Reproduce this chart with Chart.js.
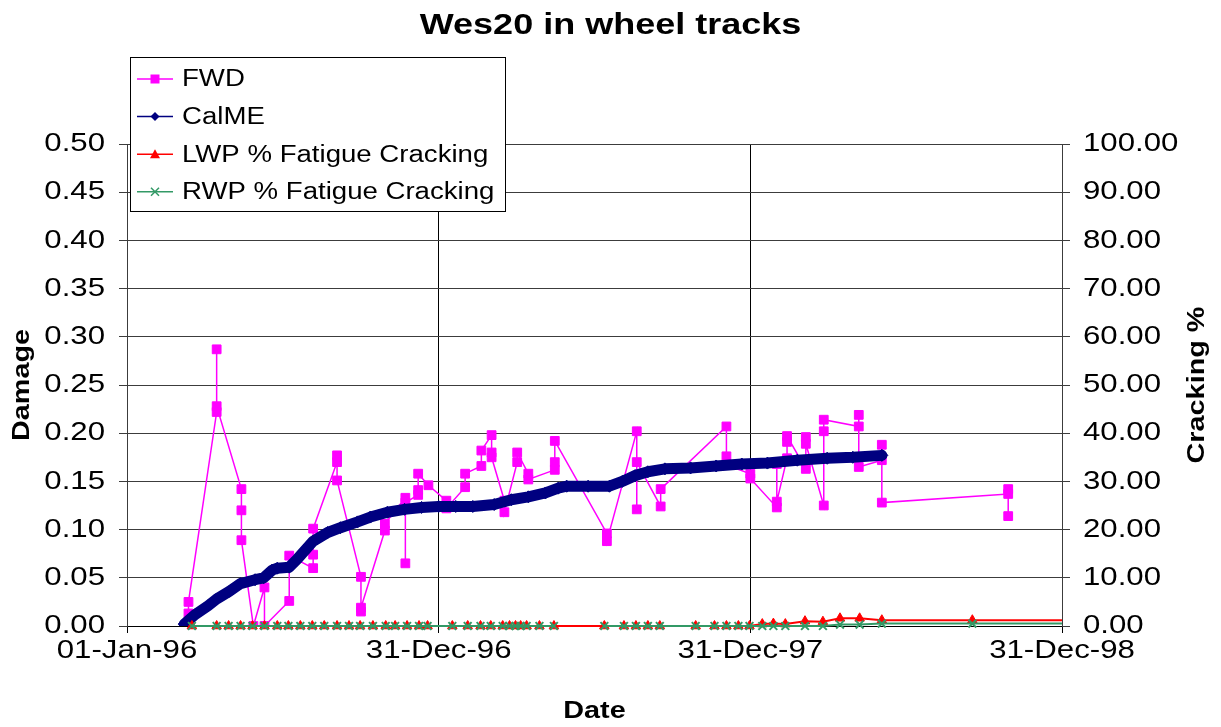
<!DOCTYPE html>
<html>
<head>
  <meta charset="UTF-8">
  <title>Wes20 in wheel tracks</title>
  <script src="https://cdn.jsdelivr.net/npm/chart.js"></script>
  <style>
    html, body { margin: 0; padding: 0; background: #fff; }
    #chart-container { width: 1221px; height: 727px; }
  </style>
</head>
<body>
  <div id="chart-container">
    <canvas id="myChart" width="1221" height="727"></canvas>
  </div>
  <script>
    // FWD back-calculated damage, several drops per survey date
    const fwdDates = [
      '1996-03-13','1996-03-13',
      '1996-04-15','1996-04-15','1996-04-15',
      '1996-05-14','1996-05-14','1996-05-14',
      '1996-05-28',
      '1996-06-10','1996-06-10',
      '1996-07-09','1996-07-09',
      '1996-08-06','1996-08-06','1996-08-06',
      '1996-09-03','1996-09-03','1996-09-03',
      '1996-10-01','1996-10-01','1996-10-01',
      '1996-10-29','1996-10-29',
      '1996-11-22','1996-11-22','1996-11-22',
      '1996-12-07','1996-12-07','1996-12-07',
      '1996-12-19',
      '1997-01-09','1997-01-09',
      '1997-01-31','1997-01-31',
      '1997-02-19','1997-02-19',
      '1997-03-03','1997-03-03','1997-03-03',
      '1997-03-18','1997-03-18',
      '1997-04-02','1997-04-02',
      '1997-04-15','1997-04-15',
      '1997-05-16','1997-05-16','1997-05-16',
      '1997-07-16','1997-07-16',
      '1997-08-20','1997-08-20','1997-08-20',
      '1997-09-17','1997-09-17',
      '1997-12-03','1997-12-03','1997-12-03',
      '1997-12-31','1997-12-31',
      '1998-01-31','1998-01-31','1998-01-31',
      '1998-02-12','1998-02-12','1998-02-12',
      '1998-03-06','1998-03-06','1998-03-06',
      '1998-03-27','1998-03-27','1998-03-27',
      '1998-05-07','1998-05-07','1998-05-07',
      '1998-06-03','1998-06-03','1998-06-03',
      '1998-10-29','1998-10-29','1998-10-29'
    ];
    const fwdDamage = [
      0.013, 0.025,
      0.222, 0.287, 0.228,
      0.142, 0.120, 0.089,
      0.000,
      0.040, 0.000,
      0.026, 0.073,
      0.060, 0.074, 0.101,
      0.170, 0.177, 0.151,
      0.051, 0.015, 0.019,
      0.099, 0.106,
      0.133, 0.065, 0.128,
      0.136, 0.141, 0.158,
      0.146,
      0.130, 0.122,
      0.144, 0.158,
      0.166, 0.182,
      0.198, 0.180, 0.175,
      0.130, 0.118,
      0.170, 0.180,
      0.158, 0.152,
      0.162, 0.170, 0.192,
      0.096, 0.088,
      0.202, 0.121, 0.170,
      0.124, 0.142,
      0.207, 0.176, 0.167,
      0.158, 0.153,
      0.123, 0.168, 0.129,
      0.174, 0.191, 0.197,
      0.163, 0.196, 0.189,
      0.125, 0.202, 0.214,
      0.207, 0.219, 0.165,
      0.172, 0.188, 0.128,
      0.137, 0.142, 0.114
    ];

    // CalME simulated damage
    const calmeDates = [
      '1996-03-08','1996-03-21','1996-04-05','1996-04-15','1996-04-30',
      '1996-05-13','1996-05-30','1996-06-09','1996-06-19','1996-06-25',
      '1996-07-09','1996-07-19','1996-08-06','1996-08-23','1996-09-07',
      '1996-09-27','1996-10-12','1996-11-01','1996-11-21','1996-12-11',
      '1996-12-31','1997-01-20','1997-02-09','1997-03-06','1997-03-26',
      '1997-04-15','1997-05-05','1997-05-20','1997-05-30','1997-06-24',
      '1997-07-19','1997-08-03','1997-08-18','1997-09-02','1997-09-22',
      '1997-10-22','1997-11-21','1997-12-21','1998-01-20','1998-02-24',
      '1998-03-31','1998-04-30','1998-06-03'
    ];
    const calmeDamage = [
      0.002, 0.012, 0.021, 0.028, 0.036,
      0.044, 0.048, 0.050, 0.058, 0.060,
      0.061, 0.070, 0.088, 0.097, 0.102,
      0.108, 0.113, 0.118, 0.121, 0.123,
      0.124, 0.124, 0.124, 0.126, 0.131,
      0.134, 0.138, 0.143, 0.145, 0.145,
      0.145, 0.150, 0.156, 0.160, 0.163,
      0.164, 0.166, 0.168, 0.169, 0.172,
      0.174, 0.175, 0.177
    ];

    // visual crack surveys (right axis); null = no RWP reading
    const crackDates = [
      '1996-03-17','1996-04-15','1996-04-29','1996-05-13','1996-05-27',
      '1996-06-10','1996-06-25','1996-07-08','1996-07-22','1996-08-05',
      '1996-08-19','1996-09-03','1996-09-17','1996-09-30','1996-10-15',
      '1996-10-30','1996-11-10','1996-11-24','1996-12-08','1996-12-18',
      '1997-01-16','1997-02-03','1997-02-18','1997-03-02','1997-03-16',
      '1997-03-24','1997-03-31','1997-04-06','1997-04-13','1997-04-28',
      '1997-05-15','1997-06-14','1997-07-13','1997-08-05','1997-08-19',
      '1997-09-02','1997-09-16','1997-10-28','1997-11-19','1997-12-03',
      '1997-12-17','1997-12-30','1998-01-14','1998-01-27','1998-02-10',
      '1998-03-05','1998-03-26','1998-04-15','1998-05-08','1998-06-03',
      '1998-09-17','1999-01-15'
    ];
    const lwpCracking = [
      0, 0, 0, 0, 0,  0, 0, 0, 0, 0,
      0, 0, 0, 0, 0,  0, 0, 0, 0, 0,
      0, 0, 0, 0, 0,  0, 0, 0, 0, 0,
      0, null, 0, 0, 0,  0, 0, 0, 0, 0,
      0, 0, 0.4, 0.5, 0.4,  1.0, 0.9, 1.6, 1.6, 1.2,
      1.2, 1.2
    ];
    const rwpCracking = [
      0, 0, 0, 0, 0,  0, 0, 0, 0, 0,
      0, 0, 0, 0, 0,  0, 0, 0, 0, 0,
      0, 0, 0, 0, 0,  0, 0, 0, 0, 0,
      0, null, 0, 0, 0,  0, 0, 0, 0, 0,
      0, 0, 0, 0, 0,  0, 0, 0.3, 0.3, 0.5,
      0.5, 0.5
    ];

    const xTicks = ['1996-01-01', '1996-12-31', '1997-12-31', '1998-12-31'];

    // dates are plotted as days since 01-Jan-96
    const DAY = 86400000;
    const START = Date.parse('1996-01-01');
    const toDay = s => (Date.parse(s) - START) / DAY;
    const MONTHS = ['Jan','Feb','Mar','Apr','May','Jun','Jul','Aug','Sep','Oct','Nov','Dec'];
    function dayLabel(d) {
      const t = new Date(START + d * DAY);
      return String(t.getUTCDate()).padStart(2, '0') + '-' + MONTHS[t.getUTCMonth()] + '-' +
        String(t.getUTCFullYear()).slice(2);
    }
    const points = (dates, values) => dates.map((d, i) => ({ x: toDay(d), y: values[i] }));

    const FONT = '"Liberation Sans", Arial, sans-serif';

    // the Excel export draws its text wider than normal Arial
    const TEXT_STRETCH = 1.2;
    const canvas = document.getElementById('myChart');
    const ctx = canvas.getContext('2d');
    const rawFill = ctx.fillText.bind(ctx);
    const rawMeasure = ctx.measureText.bind(ctx);
    ctx.fillText = function (s, x, y) {
      ctx.save();
      ctx.translate(x, y);
      ctx.scale(TEXT_STRETCH, 1);
      rawFill(s, 0, 0);
      ctx.restore();
    };
    ctx.measureText = function (s) {
      const m = rawMeasure(s);
      return {
        width: m.width * TEXT_STRETCH,
        actualBoundingBoxAscent: m.actualBoundingBoxAscent,
        actualBoundingBoxDescent: m.actualBoundingBoxDescent
      };
    };

    function legendMarker(c, style, x, y, color) {
      c.fillStyle = color;
      c.strokeStyle = color;
      c.beginPath();
      if (style === 'rect') {
        c.rect(x - 4.5, y - 4.5, 9, 9);
        c.fill();
      } else if (style === 'rectRot') {
        c.moveTo(x, y - 4.5); c.lineTo(x + 4.5, y); c.lineTo(x, y + 4.5); c.lineTo(x - 4.5, y);
        c.closePath();
        c.fill();
      } else if (style === 'triangle') {
        c.moveTo(x, y - 5); c.lineTo(x + 5, y + 4); c.lineTo(x - 5, y + 4);
        c.closePath();
        c.fill();
      } else {
        c.lineWidth = 1.5;
        c.moveTo(x - 4, y - 4); c.lineTo(x + 4, y + 4);
        c.moveTo(x + 4, y - 4); c.lineTo(x - 4, y + 4);
        c.stroke();
      }
    }

    // boxed legend over the top-left of the plot, plus the right axis title
    const excelBits = {
      id: 'excelBits',
      afterDraw(chart) {
        const c = chart.ctx;
        const y2 = chart.scales.y2;

        c.save();
        c.translate(y2.right - 24, (y2.top + y2.bottom) / 2);
        c.rotate(-Math.PI / 2);
        c.font = 'bold 24px ' + FONT;
        c.fillStyle = '#000';
        c.textAlign = 'center';
        c.textBaseline = 'middle';
        c.fillText('Cracking %', 0, 0);
        c.restore();

        const bx = 130, by = 57, bw = 375, bh = 154;
        c.save();
        c.fillStyle = '#fff';
        c.fillRect(bx, by, bw, bh);
        c.strokeStyle = '#000';
        c.lineWidth = 1;
        c.strokeRect(bx + 0.5, by + 0.5, bw, bh);
        c.font = '23px ' + FONT;
        c.textAlign = 'left';
        c.textBaseline = 'middle';
        chart.data.datasets.forEach((ds, i) => {
          const y = by + 22 + i * 37.6;
          c.strokeStyle = ds.borderColor;
          c.lineWidth = 1.5;
          c.beginPath();
          c.moveTo(bx + 7, y);
          c.lineTo(bx + 43, y);
          c.stroke();
          legendMarker(c, ds.pointStyle, bx + 25, y, ds.borderColor);
          c.fillStyle = '#000';
          c.fillText(ds.label, bx + 52, y + 1);
        });
        c.restore();
      }
    };

    const data = {
      datasets: [
        {
          label: 'FWD',
          data: points(fwdDates, fwdDamage),
          borderColor: '#FF00FF',
          backgroundColor: '#FF00FF',
          borderWidth: 1.5,
          pointStyle: 'rect',
          pointRadius: 6.2,
          pointBorderWidth: 1,
          yAxisID: 'y',
          order: 4
        },
        {
          label: 'CalME',
          data: points(calmeDates, calmeDamage),
          borderColor: '#000080',
          backgroundColor: '#000080',
          borderWidth: 11,
          borderCapStyle: 'round',
          borderJoinStyle: 'round',
          pointStyle: 'rectRot',
          pointRadius: 6,
          pointBorderWidth: 1,
          yAxisID: 'y',
          order: 3
        },
        {
          label: 'LWP % Fatigue Cracking',
          data: points(crackDates, lwpCracking),
          borderColor: '#FF0000',
          backgroundColor: '#FF0000',
          borderWidth: 2,
          pointStyle: 'triangle',
          pointRadius: 5.5,
          pointBorderWidth: 1,
          spanGaps: true,
          clip: { left: 10, top: 10, right: 0, bottom: 10 },
          yAxisID: 'y2',
          order: 2
        },
        {
          label: 'RWP % Fatigue Cracking',
          data: points(crackDates, rwpCracking),
          borderColor: '#339966',
          backgroundColor: '#339966',
          borderWidth: 2,
          pointStyle: 'crossRot',
          pointRadius: 5.5,
          pointBorderWidth: 2,
          spanGaps: false,
          clip: { left: 10, top: 10, right: 0, bottom: 10 },
          yAxisID: 'y2',
          order: 1
        }
      ]
    };

    const config = {
      type: 'line',
      data: data,
      options: {
        responsive: false,
        animation: false,
        devicePixelRatio: 1,
        layout: { padding: 0 },
        elements: { line: { tension: 0 } },
        plugins: {
          legend: { display: false },
          tooltip: { enabled: false },
          title: {
            display: true,
            text: 'Wes20 in wheel tracks',
            color: '#000',
            font: { family: FONT, size: 30, weight: 'bold' },
            padding: { top: 8, bottom: 100 }
          }
        },
        scales: {
          x: {
            type: 'linear',
            min: toDay(xTicks[0]),
            max: toDay(xTicks[xTicks.length - 1]),
            afterBuildTicks: scale => { scale.ticks = xTicks.map(d => ({ value: toDay(d) })); },
            ticks: {
              callback: v => dayLabel(v),
              color: '#000',
              font: { family: FONT, size: 26 },
              padding: 2,
              maxRotation: 0,
              autoSkip: false
            },
            grid: { color: '#000', lineWidth: 1, tickLength: 7 },
            border: { color: '#000', width: 1 },
            title: {
              display: true,
              text: 'Date',
              color: '#000',
              font: { family: FONT, size: 24, weight: 'bold' },
              padding: { top: 0, bottom: 1 }
            },
            afterFit: scale => { scale.height = 101; }
          },
          y: {
            position: 'left',
            min: 0,
            max: 0.5,
            ticks: {
              stepSize: 0.05,
              callback: v => v.toFixed(2),
              color: '#000',
              font: { family: FONT, size: 26 },
              padding: 14
            },
            grid: { color: '#3c3c3c', lineWidth: 1, tickLength: 8 },
            border: { color: '#3c3c3c', width: 1 },
            title: {
              display: true,
              text: 'Damage',
              color: '#000',
              font: { family: FONT, size: 24, weight: 'bold' },
              padding: { top: 8, bottom: 0 }
            },
            afterFit: scale => { scale.width = 127; }
          },
          y2: {
            position: 'right',
            min: 0,
            max: 100,
            ticks: {
              stepSize: 10,
              callback: v => v.toFixed(2),
              color: '#000',
              font: { family: FONT, size: 26 },
              padding: 13
            },
            grid: { drawOnChartArea: false, color: '#3c3c3c', tickLength: 8 },
            border: { color: '#3c3c3c', width: 1 },
            afterFit: scale => { scale.width = 159; }
          }
        }
      },
      plugins: [excelBits]
    };

    new Chart(ctx, config);
  </script>
</body>
</html>
